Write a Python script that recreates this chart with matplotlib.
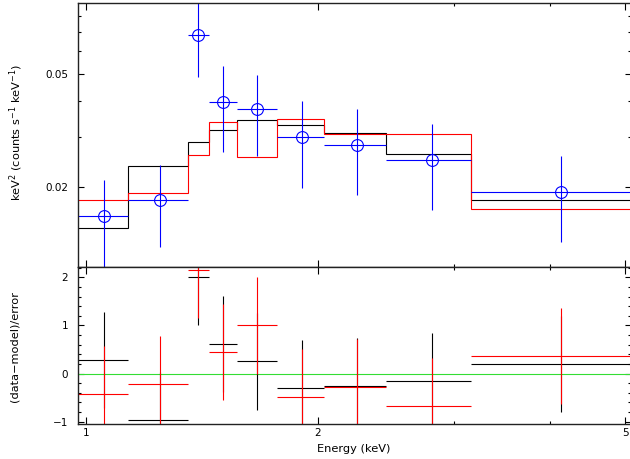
import matplotlib
matplotlib.use("Agg")
import matplotlib.pyplot as plt
import numpy as np
from matplotlib.ticker import FixedLocator, NullFormatter, FixedFormatter

# ---- data ----
edges = [0.9755, 1.1346, 1.3547, 1.4439, 1.5713, 1.7672, 2.0373, 2.4492, 3.160, 5.39]
centers = [1.056, 1.246, 1.398, 1.507, 1.665, 1.905, 2.244, 2.808, 4.127]
data_y = [0.01586, 0.01801, 0.0687, 0.03987, 0.03758, 0.02997, 0.02817, 0.02495, 0.01921]
data_hi = [0.02122, 0.02382, 0.0900, 0.05345, 0.04947, 0.0402, 0.03768, 0.03338, 0.02577]
data_lo = [0.0104, 0.01228, 0.04866, 0.02646, 0.02563, 0.01984, 0.0188, 0.01656, 0.01282]
model_black = [0.01428, 0.02371, 0.02879, 0.03162, 0.03439, 0.03304, 0.03095, 0.02619, 0.01795]
model_red = [0.01805, 0.0191, 0.02584, 0.0339, 0.02556, 0.03475, 0.0307, 0.0307, 0.01674]
resid_black = [0.28, -0.97, 2.0, 0.62, 0.25, -0.31, -0.27, -0.16, 0.19]
resid_red = [-0.42, -0.21, 2.15, 0.44, 1.0, -0.48, -0.28, -0.68, 0.37]
resid_err = [1, 1, 1, 1, 1, 1, 1, 1, 1]

xticks_major = [1, 2, 5]
xticks_minor = [3, 4]
ytop_major = [0.02, 0.05]
ytop_minor = [0.03, 0.04, 0.06, 0.07, 0.08]
yres_major = [-1, 0, 1, 2]

plt.rcParams['font.family'] = ['DejaVu Sans']
plt.rcParams['font.size'] = 7.5

W, H = 630, 459
fig = plt.figure(figsize=(W / 100, H / 100), dpi=100)

def fx(px):
    return px / W

def fy(py):
    return 1 - py / H

left, right = 77.7, 631.0
top1, mid, bot = 3.0, 267.0, 424.0
ax1 = fig.add_axes([fx(left), fy(mid), fx(right) - fx(left), fy(top1) - fy(mid)])
ax2 = fig.add_axes([fx(left), fy(bot), fx(right) - fx(left), fy(mid) - fy(bot)], sharex=ax1)

e = np.array(edges)
c = np.array(centers)
lw = 0.8

# top panel
ax1.stairs(model_black, edges, color='black', lw=lw, baseline=None)
ax1.stairs(model_red, edges, color='red', lw=lw, baseline=None)
dy = np.array(data_y)
ax1.errorbar(c, dy, xerr=[c - e[:-1], e[1:] - c],
             yerr=[dy - np.array(data_lo), np.array(data_hi) - dy],
             fmt='o', mfc='none', mec='blue', ms=8.5, mew=0.8,
             ecolor='blue', elinewidth=lw, capsize=0, color='blue')

# residual panel
ax2.axhline(0, color='#33dd33', lw=0.8)
ax2.errorbar(c, resid_black, xerr=[c - e[:-1], e[1:] - c], yerr=resid_err,
             fmt='none', ecolor='black', elinewidth=lw, capsize=0)
ax2.errorbar(c, resid_red, xerr=[c - e[:-1], e[1:] - c], yerr=resid_err,
             fmt='none', ecolor='red', elinewidth=lw, capsize=0)

for ax in (ax1, ax2):
    ax.set_xscale('log')
    ax.set_xlim(0.976, 5.09)
    ax.xaxis.set_major_locator(FixedLocator(xticks_major))
    ax.xaxis.set_minor_locator(FixedLocator(xticks_minor))
    ax.xaxis.set_minor_formatter(NullFormatter())
    ax.tick_params(which='both', direction='in', top=True, right=True,
                   width=0.8, colors='black', labelsize=7.5)
    ax.tick_params(which='major', length=4)
    ax.tick_params(which='minor', length=2.5)
    for s in ax.spines.values():
        s.set_linewidth(1.0)
        s.set_color('#222222')

ax1.set_yscale('log')
ax1.set_ylim(0.01045, 0.0889)
ax1.yaxis.set_major_locator(FixedLocator(ytop_major))
ax1.yaxis.set_major_formatter(FixedFormatter([str(v) for v in ytop_major]))
ax1.yaxis.set_minor_locator(FixedLocator(ytop_minor))
ax1.yaxis.set_minor_formatter(NullFormatter())
ax1.tick_params(axis='x', which='both', labelbottom=False)
ax1.tick_params(axis='x', which='major', length=5)
ax1.tick_params(axis='y', pad=7)

ax2.set_ylim(-1.05, 2.215)
ax2.yaxis.set_major_locator(FixedLocator(yres_major))
ax2.yaxis.set_major_formatter(FixedFormatter(['\u22121', '0', '1', '2']))
ax2.yaxis.set_minor_locator(FixedLocator(list(np.arange(-1, 2.21, 0.2))))
ax2.xaxis.set_major_formatter(FixedFormatter([str(v) for v in xticks_major]))
ax2.tick_params(axis='x', which='major', length=5, pad=3)
ax2.tick_params(axis='y', pad=7)

fig.text(fx(16), fy(132), 'keV$^2$ (counts s$^{-1}$ keV$^{-1}$)', rotation=90,
         ha='center', va='center', fontsize=8.2)
fig.text(fx(15), fy(346), '(data\u2212model)/error', rotation=90,
         ha='center', va='center', fontsize=8.2)
fig.text(fx(354), fy(449), 'Energy (keV)', ha='center', va='center', fontsize=8.2)

fig.savefig('out.png', dpi=100)
